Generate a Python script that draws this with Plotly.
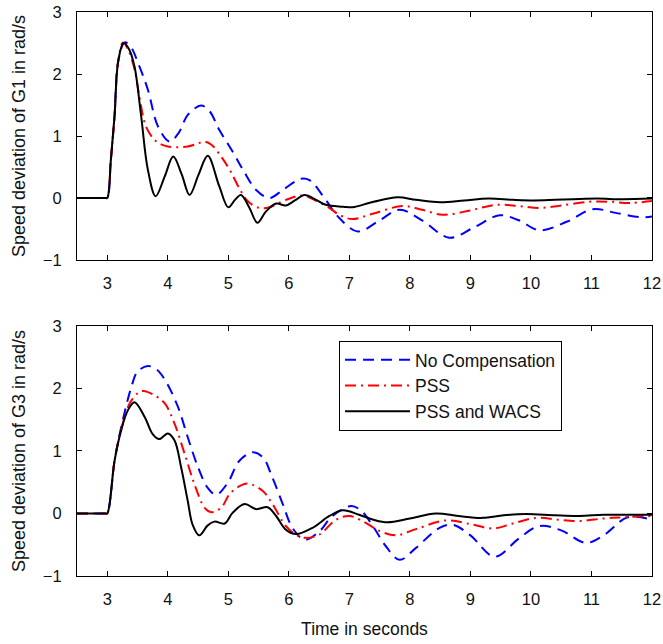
import plotly.graph_objects as go

# ---------------- data: G1 (top) ----------------
g1_none_t = [2.5, 2.97, 3.0, 3.06, 3.12, 3.18, 3.29, 3.4, 3.5, 3.67, 3.84, 4.03, 4.18, 4.33, 4.55, 4.69, 4.85,
             5.07, 5.24, 5.46, 5.68, 5.9, 6.2, 6.34, 6.61, 6.83, 7.14, 7.5, 7.83, 8.2, 8.65, 9.05, 9.48, 9.8,
             10.14, 10.6, 11.02, 11.4, 11.82, 12.0]
g1_none_y = [0, 0, 0, 0.62, 1.32, 2.2, 2.51, 2.42, 2.2, 1.75, 1.15, 0.91, 1.05, 1.34, 1.49, 1.4, 1.1,
             0.75, 0.46, 0.13, 0.0, 0.13, 0.31, 0.29, -0.03, -0.32, -0.54, -0.36, -0.19, -0.36, -0.64, -0.48, -0.28, -0.36,
             -0.52, -0.38, -0.18, -0.24, -0.31, -0.3]

g1_pss_t = [2.5, 2.97, 3.0, 3.06, 3.12, 3.18, 3.26, 3.35, 3.45, 3.53, 3.64, 3.78, 3.9, 4.0, 4.15, 4.33, 4.5, 4.6,
            4.72, 4.88, 5.02, 5.18, 5.32, 5.51, 5.68, 5.95, 6.23, 6.42, 6.64, 6.85, 7.05, 7.4, 7.88, 8.2, 8.54, 9.0,
            9.42, 9.8, 10.14, 10.5, 10.97, 11.3, 11.63, 12.0]
g1_pss_y = [0, 0, 0, 0.62, 1.32, 2.2, 2.51, 2.38, 2.08, 1.64, 1.15, 0.94, 0.86, 0.83, 0.82, 0.83, 0.88, 0.91,
            0.86, 0.67, 0.46, 0.16, -0.05, -0.16, -0.15, -0.03, 0.04, -0.03, -0.14, -0.28, -0.34, -0.25, -0.13, -0.19, -0.27, -0.2,
            -0.11, -0.13, -0.16, -0.12, -0.06, -0.06, -0.08, -0.05]

g1_wacs_t = [2.5, 2.97, 3.0, 3.06, 3.12, 3.18, 3.27, 3.36, 3.45, 3.56, 3.67, 3.8, 3.95, 4.09, 4.23, 4.36, 4.51,
             4.66, 4.85, 5.0, 5.11, 5.21, 5.35, 5.48, 5.62, 5.79, 5.95, 6.1, 6.26, 6.45, 6.61, 6.9, 7.05, 7.4, 7.8,
             8.1, 8.5, 8.9, 9.3, 9.7, 10.05, 10.4, 10.7, 11.1, 11.5, 12.0]
g1_wacs_y = [0, 0, 0, 0.62, 1.32, 2.2, 2.5, 2.4, 2.12, 1.32, 0.46, 0.03, 0.35, 0.67, 0.38, 0.05, 0.38,
             0.68, 0.19, -0.15, -0.03, 0.05, -0.16, -0.4, -0.22, -0.09, -0.12, -0.04, 0.05, -0.03, -0.11, -0.14, -0.15, -0.06, 0.01,
             -0.03, -0.07, -0.04, -0.01, -0.03, -0.04, -0.03, -0.02, -0.01, -0.02, -0.01]

# ---------------- data: G3 (bottom) ----------------
g3_none_t = [2.5, 2.97, 3.0, 3.12, 3.23, 3.4, 3.5, 3.67, 3.82, 3.97, 4.17, 4.33, 4.5, 4.66, 4.8, 4.99, 5.18,
             5.4, 5.57, 5.73, 5.9, 6.06, 6.26, 6.5, 6.72, 7.03, 7.2, 7.4, 7.6, 7.83, 8.1, 8.49, 8.71, 9.0, 9.4,
             9.8, 10.14, 10.5, 10.91, 11.2, 11.6, 12.0]
g3_none_y = [0, 0, 0, 0.84, 1.38, 2.03, 2.27, 2.36, 2.3, 2.11, 1.7, 1.22, 0.74, 0.41, 0.3, 0.49, 0.84,
             0.98, 0.9, 0.57, 0.15, -0.23, -0.42, -0.29, -0.04, 0.12, 0.04, -0.22, -0.52, -0.74, -0.55, -0.23, -0.18, -0.35, -0.69,
             -0.4, -0.2, -0.27, -0.47, -0.35, -0.06, -0.1]

g3_pss_t = [2.5, 2.97, 3.0, 3.12, 3.23, 3.37, 3.51, 3.6, 3.78, 3.95, 4.11, 4.28, 4.44, 4.61, 4.72, 4.88, 5.02,
            5.17, 5.32, 5.57, 5.73, 5.95, 6.12, 6.28, 6.5, 6.78, 7.0, 7.27, 7.5, 7.77, 8.1, 8.6, 9.0, 9.37, 9.7,
            10.09, 10.45, 10.8, 11.2, 11.52, 12.0]
g3_pss_y = [0, 0, 0, 0.84, 1.35, 1.76, 1.93, 1.96, 1.89, 1.76, 1.44, 0.95, 0.47, 0.09, 0.02, 0.09, 0.31,
            0.43, 0.48, 0.36, 0.15, -0.2, -0.34, -0.39, -0.34, -0.1, -0.04, -0.15, -0.28, -0.35, -0.25, -0.11, -0.17, -0.24, -0.16,
            -0.07, -0.1, -0.12, -0.08, -0.06, -0.04]

g3_wacs_t = [2.5, 2.97, 3.0, 3.12, 3.23, 3.34, 3.45, 3.62, 3.75, 3.86, 4.0, 4.11, 4.22, 4.33, 4.41, 4.52, 4.66,
             4.77, 4.94, 5.07, 5.27, 5.46, 5.65, 5.79, 5.95, 6.12, 6.39, 6.67, 6.89, 7.16, 7.4, 7.63, 8.0, 8.43,
             8.8, 9.2, 9.55, 9.92, 10.4, 10.8, 11.2, 11.52, 12.0]
g3_wacs_y = [0, 0, 0, 0.84, 1.33, 1.65, 1.78, 1.54, 1.27, 1.19, 1.28, 1.17, 0.74, 0.2, -0.18, -0.35, -0.19,
             -0.13, -0.16, 0.01, 0.15, 0.07, 0.1, -0.04, -0.26, -0.33, -0.23, -0.04, 0.05, -0.02, -0.1, -0.14, -0.08, 0.0,
             -0.04, -0.07, -0.03, -0.01, -0.03, -0.04, -0.02, -0.02, -0.02]

series_names = ["No Compensation", "PSS", "PSS and WACS"]
x_ticks = [3, 4, 5, 6, 7, 8, 9, 10, 11, 12]
y_ticks = [-1, 0, 1, 2, 3]

styles = [
    dict(color="#0000FF", width=2, dash="11px,7px"),
    dict(color="#FF0000", width=2, dash="11px,5px,2px,5px"),
    dict(color="#000000", width=2, dash="solid"),
]

FONT = "Liberation Sans, Arial, sans-serif"

fig = go.Figure()
top = [(g1_none_t, g1_none_y), (g1_pss_t, g1_pss_y), (g1_wacs_t, g1_wacs_y)]
bot = [(g3_none_t, g3_none_y), (g3_pss_t, g3_pss_y), (g3_wacs_t, g3_wacs_y)]
for i, (t, y) in enumerate(top):
    fig.add_trace(go.Scatter(x=t, y=y, mode="lines", line=dict(shape="spline", smoothing=1.0, **styles[i]),
                             name=series_names[i], showlegend=False, xaxis="x", yaxis="y"))
for i, (t, y) in enumerate(bot):
    fig.add_trace(go.Scatter(x=t, y=y, mode="lines", line=dict(shape="spline", smoothing=1.0, **styles[i]),
                             name=series_names[i], showlegend=True, xaxis="x2", yaxis="y2"))

axis_common = dict(
    showline=True, linecolor="black", linewidth=1.2, mirror="allticks",
    ticks="inside", ticklen=5, tickwidth=1, tickcolor="black",
    showgrid=False, zeroline=False, automargin=False,
    tickfont=dict(family=FONT, size=16.5, color="#111"),
)

fig.update_layout(
    width=663, height=644,
    margin=dict(l=77, r=11, t=12, b=68),
    paper_bgcolor="white", plot_bgcolor="white",
    font=dict(family=FONT, size=16, color="#111"),
    xaxis=dict(domain=[0, 1], range=[2.5, 12], tickvals=x_ticks, anchor="y", ticklabelstandoff=8, **axis_common),
    yaxis=dict(domain=[0.5603, 1.0], range=[-1, 3], tickvals=y_ticks, anchor="x", ticklabelstandoff=11,
               title=dict(text="Speed deviation of G1 in rad/s", font=dict(family=FONT, size=18), standoff=12),
               **axis_common),
    xaxis2=dict(domain=[0, 1], range=[2.5, 12], tickvals=x_ticks, anchor="y2", ticklabelstandoff=8,
                title=dict(text="Time in seconds", font=dict(family=FONT, size=17.5), standoff=15),
                **axis_common),
    yaxis2=dict(domain=[0, 0.4433], range=[-1, 3], tickvals=y_ticks, anchor="x2", ticklabelstandoff=11,
                title=dict(text="Speed deviation of G3 in rad/s", font=dict(family=FONT, size=18), standoff=12),
                **axis_common),
    legend=dict(x=0.4557, y=0.4167, xanchor="left", yanchor="top", bgcolor="white",
                bordercolor="black", borderwidth=1, font=dict(family=FONT, size=17.5, color="#111"),
                itemwidth=65, tracegroupgap=0),
)

fig.write_html("out.html")
